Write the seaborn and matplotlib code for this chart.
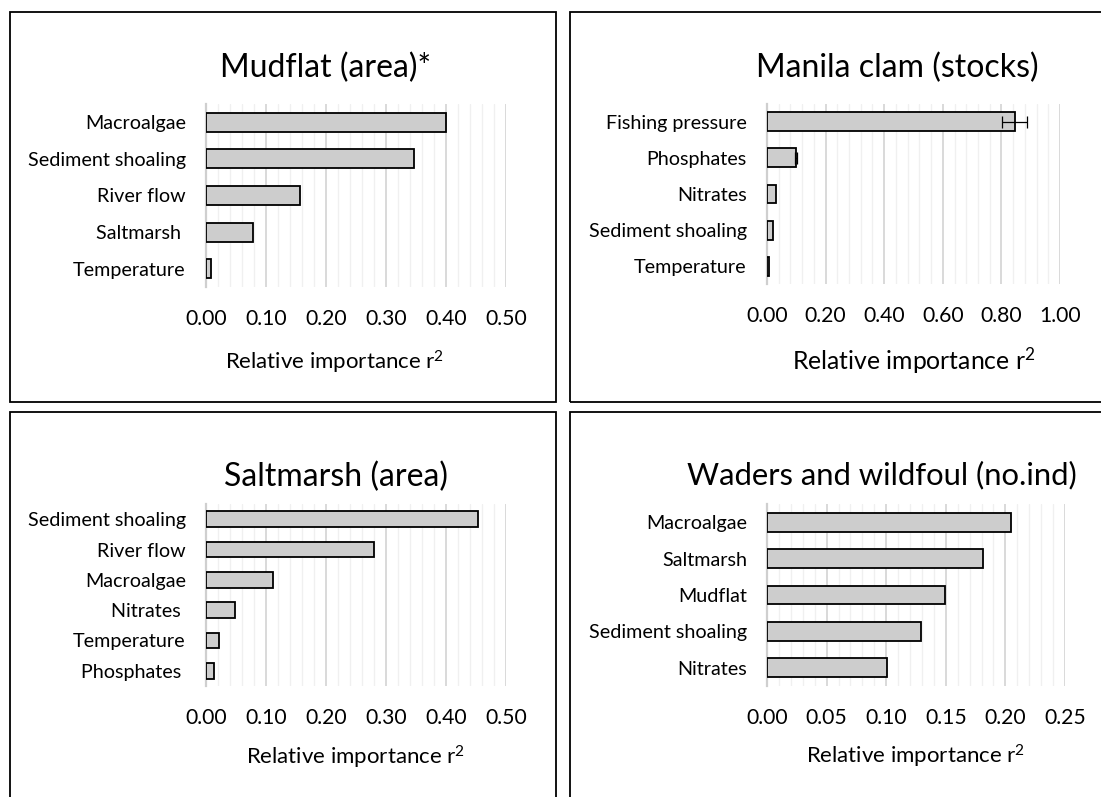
import matplotlib
matplotlib.use("Agg")
import matplotlib.pyplot as plt
import matplotlib.patches as mpatches
import numpy as np
import pandas as pd
import seaborn as sns

# ---- data -------------------------------------------------------------
mudflat_factors = ["Macroalgae", "Sediment shoaling", "River flow", "Saltmarsh ", "Temperature"]
mudflat_r2 = [0.400, 0.347, 0.157, 0.078, 0.009]

clam_factors = ["Fishing pressure", "Phosphates", "Nitrates", "Sediment shoaling", "Temperature"]
clam_r2 = [0.845, 0.100, 0.031, 0.020, 0.007]
clam_err = [0.043, 0.003, 0.0, 0.0, 0.0]

saltmarsh_factors = ["Sediment shoaling", "River flow", "Macroalgae", "Nitrates ", "Temperature", "Phosphates "]
saltmarsh_r2 = [0.454, 0.280, 0.111, 0.049, 0.021, 0.014]

birds_factors = ["Macroalgae", "Saltmarsh", "Mudflat", "Sediment shoaling", "Nitrates"]
birds_r2 = [0.205, 0.181, 0.149, 0.129, 0.101]

titles = ["Mudflat (area)*", "Manila clam (stocks)", "Saltmarsh (area)", "Waders and wildfoul (no.ind)"]
x_label = r"Relative importance r$^{2}$"

# ---- style ------------------------------------------------------------
sns.set_theme(style="white")
plt.rcParams["font.family"] = ["Lato", "DejaVu Sans"]
plt.rcParams["mathtext.fontset"] = "custom"
plt.rcParams["mathtext.rm"] = "Lato"
plt.rcParams["mathtext.it"] = "Lato"
plt.rcParams["mathtext.default"] = "rm"
plt.rcParams["text.color"] = "black"

W, H = 1101, 797
fig = plt.figure(figsize=(W / 100, H / 100), dpi=100)
fig.patch.set_facecolor("white")

BAR_FILL = "#cdcdcd"


def add_axes_px(l, t, r, b):
    return fig.add_axes([l / W, 1 - b / H, (r - l) / W, (b - t) / H])


def frame_px(l, t, r, b):
    fig.patches.append(mpatches.Rectangle((l / W, 1 - b / H), (r - l) / W, (b - t) / H,
                                          transform=fig.transFigure, fill=False,
                                          edgecolor="black", linewidth=1.3, zorder=0))


def draw_panel(ax, factors, values, xmax, major, minor, err=None,
               tick_size=15.2, cat_size=14.2, label_size=16.0,
               label_xy=(0.5, -0.36)):
    df = pd.DataFrame({"factor": factors, "r2": values})
    sns.barplot(data=df, x="r2", y="factor", orient="h", ax=ax, color=BAR_FILL,
                saturation=1, edgecolor="black", linewidth=1.3, width=0.52, zorder=3)
    if err is not None:
        ys = np.arange(len(factors))
        e = np.array(err)
        m = e > 0
        ax.errorbar(np.array(values)[m], ys[m], xerr=e[m], fmt="none",
                    ecolor="black", elinewidth=0.9, capsize=4.5, capthick=0.9, zorder=4)
    ax.set_xlim(0, xmax)
    ax.set_xticks(np.arange(0, xmax + 1e-9, major))
    ax.set_xticks(np.arange(0, xmax + 1e-9, minor), minor=True)
    ax.set_xticklabels([f"{v:.2f}" for v in np.arange(0, xmax + 1e-9, major)])
    ax.grid(axis="x", which="major", color="#d9d9d9", linewidth=1.4, zorder=0)
    ax.grid(axis="x", which="minor", color="#f0f0f0", linewidth=1.0, zorder=0)
    ax.grid(axis="y", visible=False)
    ax.set_axisbelow(True)
    for s in ["top", "right", "bottom"]:
        ax.spines[s].set_visible(False)
    ax.spines["left"].set_color("#cfcfcf")
    ax.spines["left"].set_linewidth(1.6)
    ax.spines["left"].set_zorder(2)
    ax.tick_params(axis="x", which="both", length=0, pad=15.5, labelsize=tick_size, labelcolor="black")
    ax.tick_params(axis="y", length=0, pad=14.5, labelsize=cat_size, labelcolor="black")
    ax.set_ylabel("")
    ax.set_xlabel(x_label, fontsize=label_size, color="black")
    ax.xaxis.set_label_coords(*label_xy)
    ax.set_facecolor("white")


# panel frames
frame_px(10, 12, 556, 402)
frame_px(570, 12, 1110, 402)
frame_px(10, 412, 556, 810)
frame_px(570, 412, 1110, 810)

ax1 = add_axes_px(206, 104, 506, 287)
draw_panel(ax1, mudflat_factors, mudflat_r2, 0.5, 0.1, 0.02, label_xy=(0.43, -0.34))

ax2 = add_axes_px(767, 104, 1060, 284)
draw_panel(ax2, clam_factors, clam_r2, 1.0, 0.2, 0.04, err=clam_err,
           label_size=17.8, label_xy=(0.5, -0.34))

ax3 = add_axes_px(206, 504, 506, 686)
draw_panel(ax3, saltmarsh_factors, saltmarsh_r2, 0.5, 0.1, 0.02, label_xy=(0.5, -0.32))

ax4 = add_axes_px(767, 504, 1065, 686)
draw_panel(ax4, birds_factors, birds_r2, 0.25, 0.05, 0.01, label_xy=(0.5, -0.31))

# panel titles
title_pos = [(326, 77), (897, 77), (336, 486), (882, 484)]
title_sizes = [23, 23, 23, 22.3]
for text, (x, y), fs in zip(titles, title_pos, title_sizes):
    fig.text(x / W, 1 - y / H, text, ha="center", va="baseline", fontsize=fs, color="black")

fig.savefig("out.png", dpi=100, facecolor="white")
